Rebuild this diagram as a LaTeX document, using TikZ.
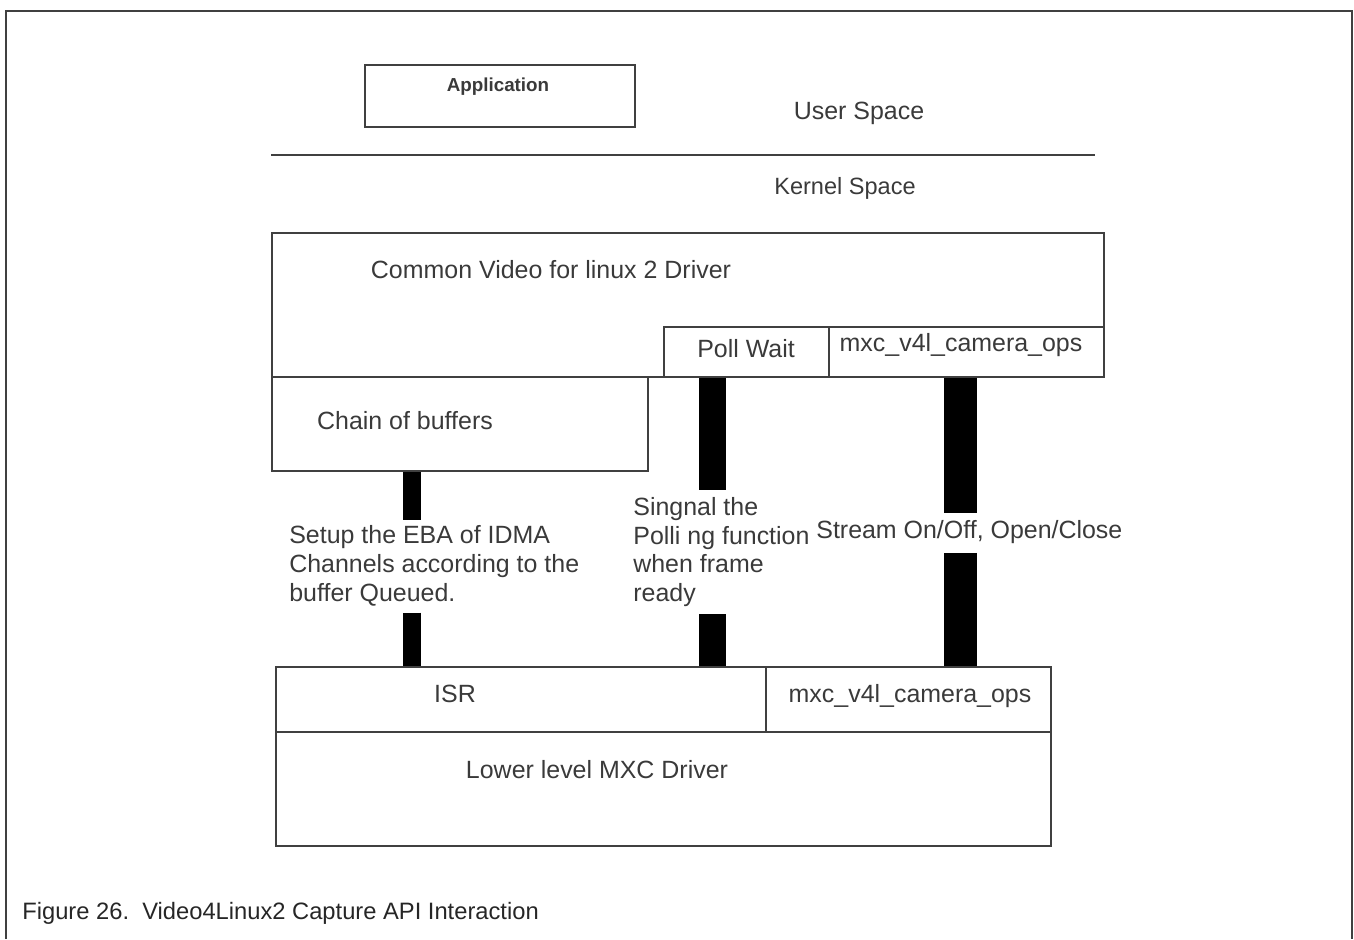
\documentclass[tikz,border=0pt]{standalone}
\usepackage{fontspec}
\setmainfont{Liberation Sans}
\definecolor{edge}{HTML}{404040}
\definecolor{ink}{HTML}{3A3A3A}
\tikzset{
	pane/.style={draw=edge, line width=1.1pt, inner sep=0pt, anchor=north west},
	txt/.style={text=ink, inner sep=0pt, font=\fontsize{14.2}{16.4}\selectfont},
	bar/.style={draw=black, line width=#1}
}
\begin{document}
\begin{tikzpicture}[x=0.02cm, y=-0.02cm]
\useasboundingbox (0,0) rectangle (1354,939);
\draw[edge, line width=1.4pt] (6,939) -- (6,11) -- (1352,11) -- (1352,939);

\node[pane, minimum width=5.4cm, minimum height=1.24cm] (app) at (364,64) {};
\node[txt, font=\bfseries\fontsize{10.7}{13}\selectfont] (apptext) at (498,87) {Application};
\node[txt] (user) at (859,113) {User Space};
\draw[edge, line width=1.1pt] (271,155) -- (1095,155);
\node[txt, font=\fontsize{13.4}{16}\selectfont] (kernel) at (845,188) {Kernel Space};

\node[pane, minimum width=16.64cm, minimum height=2.88cm] (common) at (271,232) {};
\node[pane, minimum width=3.3cm, minimum height=1cm] (poll) at (663,326) {};
\node[pane, minimum width=5.5cm, minimum height=1cm] (ops) at (828,326) {};
\node[pane, minimum width=7.52cm, minimum height=1.88cm] (chain) at (271,376) {};
\node[txt] (commontext) at (551,270) {Common Video for linux 2 Driver};
\node[txt] (polltext) at (746,349) {Poll Wait};
\node[txt] (opstext) at (961,345) {mxc\_v4l\_camera\_ops};
\node[txt] (chaintext) at (405,421) {Chain of buffers};

\node[pane, minimum width=9.8cm, minimum height=1.3cm] (isr) at (275,666) {};
\node[pane, minimum width=5.7cm, minimum height=1.3cm] (opsb) at (765,666) {};
\node[pane, minimum width=15.5cm, minimum height=2.28cm] (lower) at (275,731) {};
\node[txt] (isrtext) at (455,694) {ISR};
\node[txt] (opsbtext) at (910,696) {mxc\_v4l\_camera\_ops};
\node[txt] (lowertext) at (597,770) {Lower level MXC Driver};

\node[txt, anchor=west, align=left] (setup) at (289,566) {Setup the EBA of IDMA\\Channels according to the\\buffer Queued.};
\node[txt, anchor=west, align=left] (signal) at (633,552) {Singnal the\\Polli ng function\\when frame\\ready};
\node[txt, anchor=west] (stream) at (816,532) {Stream On/Off, Open/Close};

\coordinate (b1) at (412,0);
\coordinate (b2) at (712.5,0);
\coordinate (b3) at (960.5,0);
\draw[bar=10.2pt, shorten >=0.1cm] (b1 |- chain.south) -- (b1 |- setup.north);
\draw[bar=10.2pt, shorten <=0.12cm] (b1 |- setup.south) -- (b1 |- isr.north);
\draw[bar=15.3pt, shorten >=0.14cm] (b2 |- poll.south) -- (b2 |- signal.north);
\draw[bar=15.3pt, shorten <=0.14cm] (b2 |- signal.south) -- (b2 |- isr.north);
\draw[bar=18.7pt, shorten >=0.14cm] (b3 |- ops.south) -- (b3 |- stream.north);
\draw[bar=18.7pt, shorten <=0.18cm] (b3 |- stream.south) -- (b3 |- opsb.north);

\node[txt, anchor=west, text=black!85, font=\fontsize{13.5}{16}\selectfont] (caption) at (22,913) {Figure 26.\ \ Video4Linux2 Capture API Interaction};
\end{tikzpicture}
\end{document}
